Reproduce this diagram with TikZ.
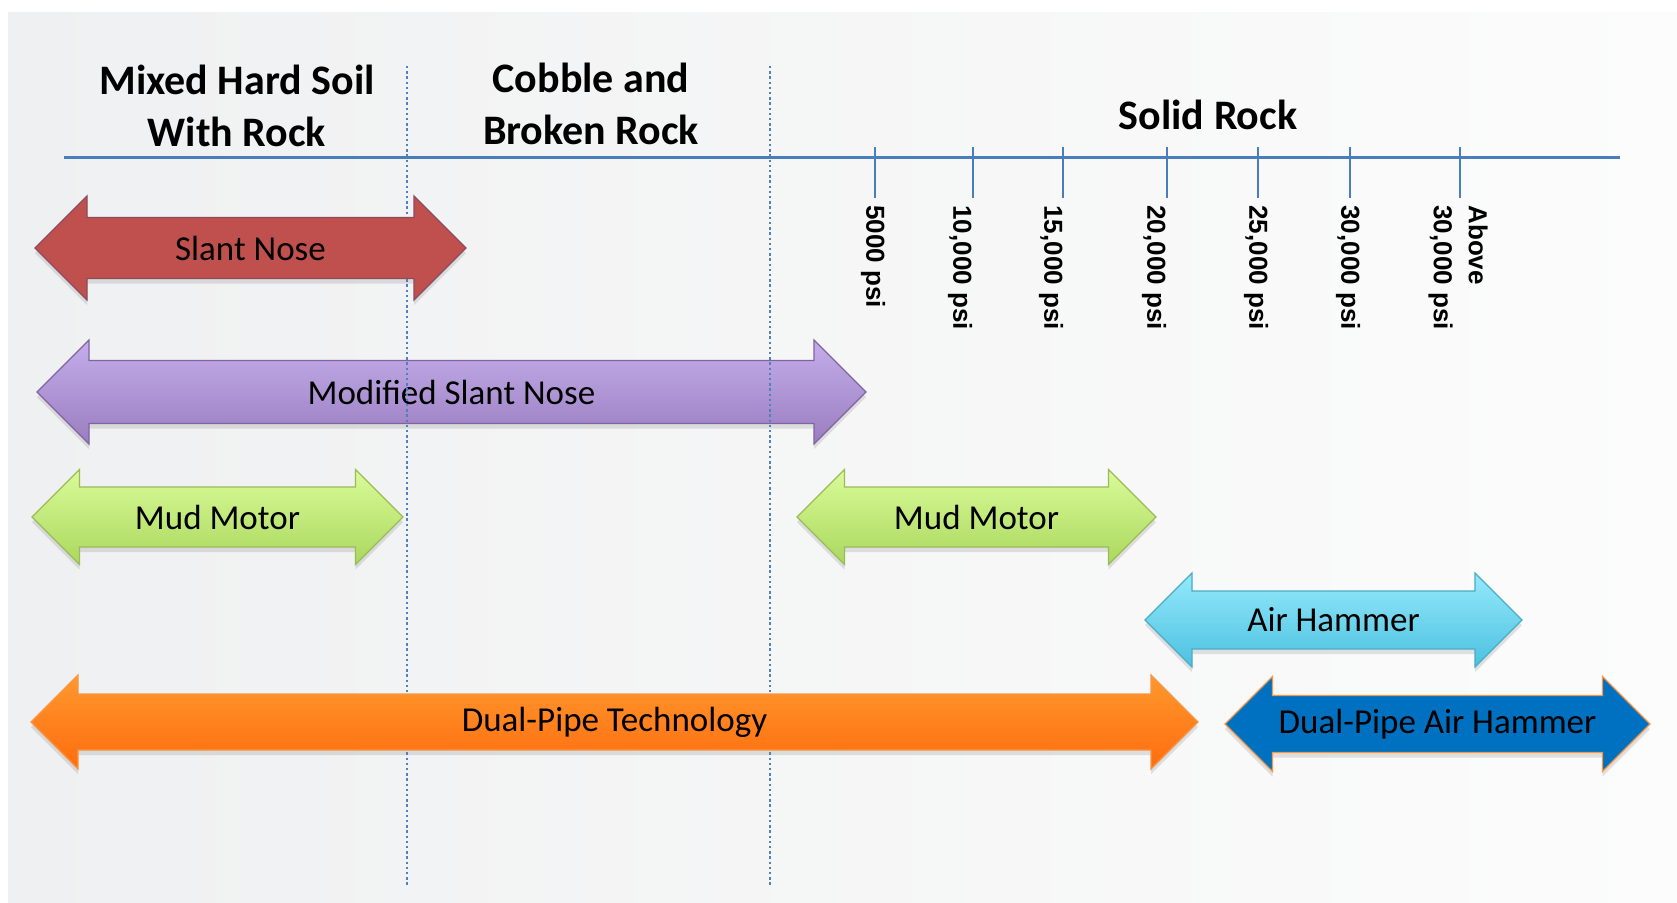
\documentclass[tikz,border=0pt]{standalone}
\usepackage{fontspec}
\setmainfont{Carlito}
\newfontfamily\tickfont{Liberation Sans}
\usetikzlibrary{shadows}
\definecolor{zoneblue}{HTML}{4F81BD}
\definecolor{axisblue}{HTML}{4A7EBB}
\definecolor{panelL}{HTML}{EFF0F1}
\definecolor{panelR}{HTML}{FCFCFC}
\definecolor{slantred}{HTML}{C0504D}
\definecolor{slantedge}{HTML}{8E4A5C}
\definecolor{modtop}{HTML}{C4AEEA}
\definecolor{modbot}{HTML}{9A7DC0}
\definecolor{modedge}{HTML}{8064A2}
\definecolor{mudtop}{HTML}{DAFB99}
\definecolor{mudbot}{HTML}{AAD85E}
\definecolor{mudedge}{HTML}{9BBB59}
\definecolor{airtop}{HTML}{95E9FB}
\definecolor{airbot}{HTML}{4CC1E1}
\definecolor{airedge}{HTML}{4BACC6}
\definecolor{dualtop}{HTML}{FF982E}
\definecolor{dualbot}{HTML}{FF6C0E}
\definecolor{dualedge}{HTML}{F79646}
\definecolor{dahblue}{HTML}{0070C0}
\tikzset{
    zone-title/.style = {font=\bfseries\fontsize{21}{26}\selectfont, align=center},
    tool-label/.style = {font=\fontsize{17.5}{20}\selectfont},
    psi-label/.style = {font=\tickfont\bfseries\fontsize{13}{17.5}\selectfont, rotate=-90, anchor=west, align=left, inner sep=0pt},
    zone-line/.style = {draw=zoneblue, line width=1.3pt, dash pattern=on 1.2pt off 1.4pt},
    tool/.style = {line width=0.6pt, drop shadow={opacity=0.22, shadow xshift=0pt, shadow yshift=-2.5pt}},
}
% #1 name, #2 look, #3 left tip, #4 right tip, #5 y, #6 head half, #7 shaft half, #8 text
\newcommand{\toolarrow}[8]{%
    \path[tool, #2] (#3,#5) -- ({#3+#6},{#5-#6}) -- ({#3+#6},{#5-#7}) -- ({#4-#6},{#5-#7})
        -- ({#4-#6},{#5-#6}) -- (#4,#5) -- ({#4-#6},{#5+#6}) -- ({#4-#6},{#5+#7})
        -- ({#3+#6},{#5+#7}) -- ({#3+#6},{#5+#6}) -- cycle;
    \node[tool-label] (#1) at ({(#3+#4)/2},#5) {#8};
}

\begin{document}
\begin{tikzpicture}[x=0.5pt,y=-0.5pt]
\useasboundingbox (0,0) rectangle (1677,902);
\fill[white] (0,0) rectangle (1677,902);
\shade[left color=panelL, right color=panelR] (8,12) rectangle (1677,902);

% zone titles
\node[zone-title] (mixed) at (237,106) {Mixed Hard Soil\\With Rock};
\node[zone-title] (cobble) at (591,104) {Cobble and\\Broken Rock};
\node[zone-title] (solid) at (1208,115) {Solid Rock};

% strength axis
\coordinate (axisL) at (64,157);
\coordinate (axisR) at (1620,157);
\draw[axisblue, line width=1.5pt] (axisL) -- (axisR);
\foreach \tx/\lx/\txt [count=\i] in {875/873/5000 psi, 973/960/{10,000 psi}, 1063/1051/{15,000 psi},
    1167/1154/{20,000 psi}, 1258/1256/{25,000 psi}, 1350/1348/{30,000 psi}, 1460/1458/{Above\\30,000 psi}}{
    \coordinate (tick\i) at (\tx,147);
    \draw[axisblue, line width=0.8pt] (tick\i) -- ++(0,51);
    \node[psi-label] (psi\i) at (\lx,205) {\txt};
}

% drill tools
\toolarrow{modslant}{top color=modtop, bottom color=modbot, draw=modedge}{37}{866}{392}{52}{31.5}{Modified Slant Nose}

% zone borders
\coordinate (zoneA top) at (407,66);
\coordinate (zoneA bot) at (407,886);
\coordinate (zoneB top) at (770,66);
\coordinate (zoneB bot) at (770,886);
\draw[zone-line] (zoneA top) -- (zoneA bot);
\draw[zone-line] (zoneB top) -- (zoneB bot);

\toolarrow{slant}{fill=slantred, draw=slantedge}{35}{466}{248}{52}{30.5}{Slant Nose}
\toolarrow{mudA}{top color=mudtop, bottom color=mudbot, draw=mudedge}{32}{403}{517}{47.5}{30}{Mud Motor}
\toolarrow{mudB}{top color=mudtop, bottom color=mudbot, draw=mudedge}{797}{1156}{517}{47.5}{30}{Mud Motor}
\toolarrow{airham}{top color=airtop, bottom color=airbot, draw=airedge}{1145}{1522}{620}{47}{29}{Air Hammer}
\toolarrow{dualpipe}{top color=dualtop, bottom color=dualbot, draw=dualedge}{31}{1198}{722}{47}{28}{Dual-Pipe Technology}
\toolarrow{dualair}{fill=dahblue, draw=dualedge}{1225}{1650}{724}{47.5}{28.5}{Dual-Pipe Air Hammer}
\end{tikzpicture}
\end{document}
